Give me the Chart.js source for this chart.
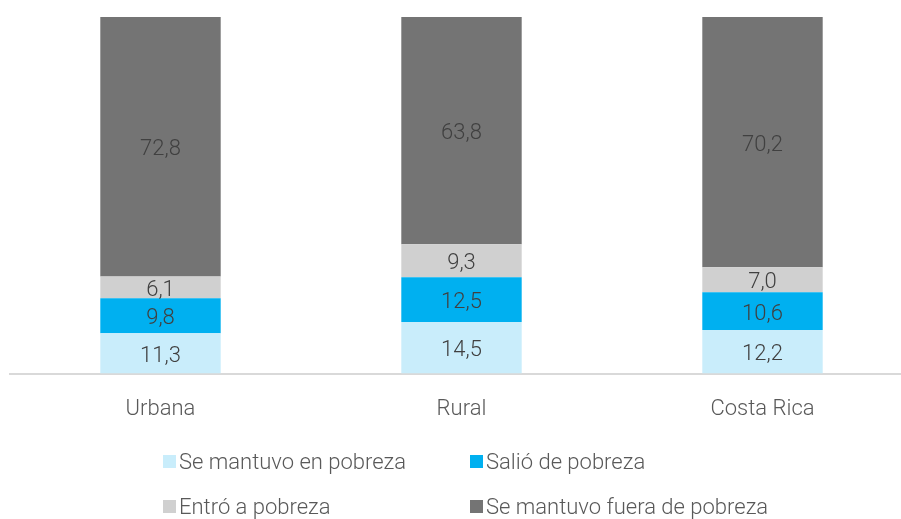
<!DOCTYPE html>
<html><head><meta charset="utf-8">
<script src="https://cdn.jsdelivr.net/npm/chart.js@4"></script>
<style>
html,body{margin:0;padding:0;background:#fff;overflow:hidden;width:901px;height:519px;}
#wrap{position:absolute;left:0;top:0;width:913px;height:446px;}
#legend{position:absolute;left:0;top:440px;width:901px;height:80px;font-family:Roboto,sans-serif;font-weight:300;font-size:22px;color:#595959;}
.li{position:absolute;display:flex;align-items:center;white-space:nowrap;}
.li span.b{display:inline-block;width:13px;height:13px;margin-right:3px;}
</style></head><body>
<div id="wrap"><canvas id="c" width="913" height="446"></canvas></div>
<div id="legend"></div>
<script>
const categories = ["Urbana", "Rural", "Costa Rica"];
const seriesNames = ["Se mantuvo en pobreza", "Salió de pobreza", "Entró a pobreza", "Se mantuvo fuera de pobreza"];
const seMantuvoEnPobreza = [11.3, 14.5, 12.2];
const salioDePobreza = [9.8, 12.5, 10.6];
const entroAPobreza = [6.1, 9.3, 7.0];
const seMantuvoFuera = [72.8, 63.8, 70.2];
const colors = ["#c9edfb", "#00b0f0", "#d0d0d0", "#747474"];

const seriesValues = [seMantuvoEnPobreza, salioDePobreza, entroAPobreza, seMantuvoFuera];
const FONT = "Roboto, sans-serif";

const labelPlugin = {
  id: "barLabels",
  afterDatasetsDraw(chart) {
    const ctx = chart.ctx;
    ctx.save();
    ctx.font = "300 22px " + FONT;
    ctx.fillStyle = "#404040";
    ctx.textAlign = "center";
    ctx.textBaseline = "middle";
    chart.data.datasets.forEach((ds, i) => {
      const meta = chart.getDatasetMeta(i);
      meta.data.forEach((bar, j) => {
        const v = ds.data[j];
        const y = (bar.y + bar.base) / 2 + 3;
        ctx.fillText(v.toFixed(1).replace(".", ","), bar.x, y);
      });
    });
    ctx.restore();
  }
};

new Chart(document.getElementById("c"), {
  type: "bar",
  data: {
    labels: categories,
    datasets: seriesNames.map((n, i) => ({
      label: n,
      data: seriesValues[i],
      backgroundColor: colors[i],
      borderWidth: 0,
      barPercentage: 0.4,
      categoryPercentage: 1.0
    }))
  },
  options: {
    responsive: false,
    animation: false,
    layout: { padding: { left: 10, right: 0, top: 17, bottom: 8 } },
    plugins: { legend: { display: false }, tooltip: { enabled: false } },
    scales: {
      x: {
        stacked: true,
        grid: { display: false },
        border: { display: true, color: "#d9d9d9", width: 2 },
        ticks: { color: "#595959", font: { family: FONT, size: 22, weight: 300 }, padding: 15 }
      },
      y: {
        stacked: true,
        display: false,
        min: 0,
        max: 100
      }
    }
  },
  plugins: [labelPlugin]
});

const leg = document.getElementById("legend");
const pos = [[163, 24], [470, 24], [163, 69], [470, 69]];
seriesNames.forEach((n, i) => {
  const d = document.createElement("div");
  d.className = "li";
  d.style.left = pos[i][0] + "px";
  d.style.top = (pos[i][1] - 15) + "px";
  d.innerHTML = '<span class="b" style="background:' + colors[i] + '"></span>' + n;
  leg.appendChild(d);
});
</script>
</body></html>
